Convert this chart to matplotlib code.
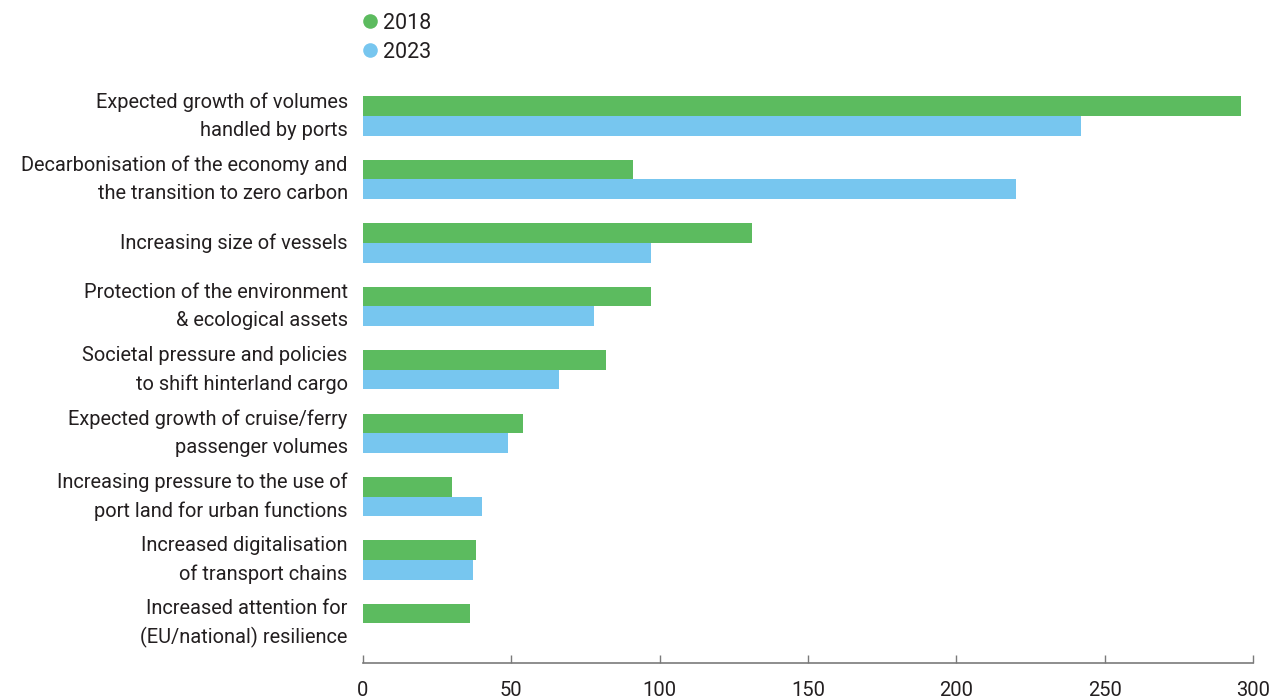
import numpy as np
import matplotlib.pyplot as plt
from matplotlib.lines import Line2D
import matplotlib.transforms as mtransforms

plt.rcParams['font.family'] = ['Roboto', 'DejaVu Sans']

# Data
categories = [
    "Expected growth of volumes\nhandled by ports",
    "Decarbonisation of the economy and\nthe transition to zero carbon",
    "Increasing size of vessels",
    "Protection of the environment\n& ecological assets",
    "Societal pressure and policies\nto shift hinterland cargo",
    "Expected growth of cruise/ferry\npassenger volumes",
    "Increasing pressure to the use of\nport land for urban functions",
    "Increased digitalisation\nof transport chains",
    "Increased attention for\n(EU/national) resilience",
]
values_2018 = [296, 91, 131, 97, 82, 54, 30, 38, 36]
values_2023 = [242, 220, 97, 78, 66, 49, 40, 37, np.nan]

green = '#5cbb5f'
blue = '#77c6ef'
text_color = '#231f20'

fig = plt.figure(figsize=(12.71, 6.99), dpi=100)
ax = fig.add_axes([0.2856, 0.0515, 0.7002, 0.834])

y = np.arange(len(categories))
h = 0.31
ax.barh(y - h / 2, values_2018, height=h, color=green)
ax.barh(y + h / 2, values_2023, height=h, color=blue)

ax.set_xlim(0, 300)
ax.set_ylim(len(categories) - 1 + 0.623, -0.568)
ax.set_xticks(np.arange(0, 301, 50))
ax.set_yticks(y)
ax.set_yticklabels(categories, fontsize=14.4, color=text_color, linespacing=1.6)

# nudge category labels up a little
shift = mtransforms.ScaledTranslation(-1 / 100, 4 / 100, fig.dpi_scale_trans)
for lab in ax.get_yticklabels():
    lab.set_verticalalignment('center')
    lab.set_transform(lab.get_transform() + shift)

ax.tick_params(axis='y', length=0, pad=11)
ax.tick_params(axis='x', direction='in', length=6, width=1, color='#7a7a7a',
               labelsize=14.5, labelcolor=text_color, pad=13)

for s in ['top', 'right', 'left']:
    ax.spines[s].set_visible(False)
ax.spines['bottom'].set_color('#7a7a7a')
ax.spines['bottom'].set_linewidth(1.2)

# legend with round markers above the plot
handles = [Line2D([0], [0], marker='o', color='none', markerfacecolor=c,
                  markeredgecolor='none', markersize=10.5) for c in (green, blue)]
fig.legend(handles, ['2018', '2023'], loc='upper left', bbox_to_anchor=(0.2844, 0.9814),
           frameon=False, handlelength=0.8, handletextpad=0.2, labelspacing=0.36,
           fontsize=15.5, borderaxespad=0, borderpad=0, labelcolor=text_color)

fig.savefig('out.png', dpi=100)
